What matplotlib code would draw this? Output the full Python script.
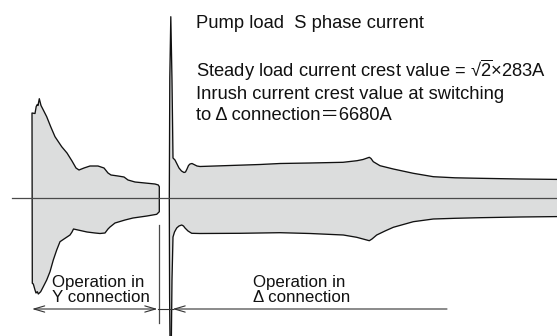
import matplotlib
matplotlib.use("Agg")
import matplotlib.pyplot as plt
from matplotlib.patches import Polygon, FancyArrowPatch, ArrowStyle

plt.rcParams["font.family"] = ["Liberation Sans", "Noto Sans CJK JP", "DejaVu Sans"]
plt.rcParams["mathtext.fontset"] = "custom"
plt.rcParams["mathtext.rm"] = "Liberation Sans"
plt.rcParams["mathtext.it"] = "Liberation Sans:italic"
plt.rcParams["mathtext.bf"] = "Liberation Sans:bold"

# ---- current envelope, Y (star) connection ------------------------------
y_upper_t = [32, 35, 36.2, 37.3, 38.0, 39.3, 41.0, 43.3, 46.7, 50.7, 55, 61.7,
             67, 72, 76, 79, 84, 90, 98, 104, 108, 111, 118, 124, 128, 135,
             145, 155, 158.3, 159.3]
y_upper_amp = [84.5, 84.0, 91.0, 93.0, 92.0, 98.8, 92.0, 87.5, 80.8, 70.8, 60.8,
               50.8, 44.5, 36.5, 29.5, 27.5, 29.5, 31.5, 31.5, 29.5, 24.5, 22.5,
               21.5, 20.5, 17.5, 15.5, 14.5, 13.5, 12.5, 10.8]
y_lower_t = [32.3, 33.3, 35, 36, 37.3, 38.3, 40.7, 43.3, 46.7, 50, 53.3, 56.7,
             60, 64, 67, 70, 72, 73.5, 78, 87, 95, 100, 105, 108, 110, 115,
             125, 133, 147, 156.7, 159.3]
y_lower_amp = [-85.8, -86.5, -92.5, -95.5, -94.2, -96.5, -94.2, -89.2, -82.5,
               -74.2, -62.5, -52.5, -44.2, -41.5, -39.5, -37.5, -34.5, -31.5,
               -32.5, -34.5, -35.5, -36.0, -35.5, -31.5, -29.5, -25.5, -22.5,
               -20.5, -18.5, -16.8, -14.2]

# ---- inrush spike at the switch-over to delta connection ----------------
spike_up_left_t = [169.3, 169.8, 170.8]
spike_up_left_amp = [0.0, 120.0, 180.8]
spike_up_right_t = [172.0, 173.0]
spike_up_right_amp = [117.0, 39.5]
spike_dn_right_t = [172.0, 171.0]
spike_dn_right_amp = [-82.0, -175.0]
spike_dn_left_t = [170.3, 169.6]
spike_dn_left_amp = [-175.0, -100.0]

# ---- current envelope, delta connection ---------------------------------
d_upper_t = [173, 175, 177, 179, 181.5, 184, 185.5, 187, 188.5, 190, 192, 194,
             197, 200, 230, 260, 280, 310, 343, 357, 363, 369.3, 371, 373.3,
             380, 393.3, 413.3, 433.3, 455, 480, 520, 565]
d_upper_amp = [39.5, 37.5, 33.5, 29.5, 26.5, 25.0, 25.5, 28.5, 32.0, 33.5, 34.0,
               33.0, 31.5, 31.0, 32.0, 33.0, 34.0, 34.5, 35.2, 36.8, 38.0, 40.2,
               39.0, 35.8, 31.8, 28.5, 24.2, 20.8, 19.7, 19.2, 18.5, 18.0]
d_lower_t = [173, 174.5, 176.7, 179, 181.7, 183.5, 185, 188, 191.7, 200, 240,
             280, 310, 343.3, 356.7, 363, 369.3, 372, 376.7, 385, 393.3, 413.3,
             433.3, 455, 480, 520, 565]
d_lower_amp = [-39.5, -34.5, -30.5, -28.5, -27.5, -28.5, -30.5, -33.5, -35.8,
               -36.0, -35.8, -35.2, -36.0, -37.5, -39.8, -41.5, -43.2, -41.5,
               -37.5, -33.5, -29.8, -24.2, -21.5, -20.8, -20.2, -19.5, -19.0]

# ---- annotations --------------------------------------------------------
steady_rms = 283        # A
inrush_peak = 6680      # A
y_period = (32, 157.5)
delta_period = (172.5, 447)
switch_t = 159.3

title_lines = [
    "Pump load  S phase current",
    "Steady load current crest value = \u221a$\\overline{2}$\u00d7%dA" % steady_rms,
    "Inrush current crest value at switching",
    "to \u0394 connection\uff1d%dA" % inrush_peak,
]
title_baselines = [169.5, 120.2, 98.8, 78.0]

fill_col = "#dcdddd"
edge_col = "#111111"

fig = plt.figure(figsize=(5.57, 3.36), dpi=100)
ax = fig.add_axes([0, 0, 1, 1])
ax.set_xlim(0, 557)
ax.set_ylim(-138.5, 197.5)
ax.axis("off")

# Y-connection envelope
ys = list(zip(y_upper_t, y_upper_amp)) + list(zip(y_lower_t[::-1], y_lower_amp[::-1]))
ax.add_patch(Polygon(ys, closed=True, facecolor=fill_col, edgecolor=edge_col,
                     lw=0.95, joinstyle="round", zorder=2))

# delta-connection envelope with the inrush spike on its left edge
ds = (list(zip(spike_dn_left_t, spike_dn_left_amp))
      + list(zip(spike_up_left_t, spike_up_left_amp))
      + list(zip(spike_up_right_t, spike_up_right_amp))
      + list(zip(d_upper_t, d_upper_amp))
      + list(zip(d_lower_t[::-1], d_lower_amp[::-1]))
      + list(zip(spike_dn_right_t, spike_dn_right_amp)))
ax.add_patch(Polygon(ds, closed=True, facecolor=fill_col, edgecolor=edge_col,
                     lw=0.95, joinstyle="round", zorder=2))

# time axis
ax.plot([12, 557], [0, 0], color="#4a4a4a", lw=0.9, zorder=3)

# switching instant marker
ax.plot([switch_t, switch_t], [-27.5, -125.5], color="#4a4a4a", lw=0.9, zorder=3)

# operating-period arrows
arr_y = -111.5
astyle_both = ArrowStyle("<->", head_length=0.55, head_width=0.16)
astyle_left = ArrowStyle("<-", head_length=0.55, head_width=0.16)
ax.add_patch(FancyArrowPatch((y_period[0], arr_y), (y_period[1], arr_y),
                             arrowstyle=astyle_both, mutation_scale=14,
                             shrinkA=0, shrinkB=0, color="#333333", lw=0.8, zorder=3))
ax.plot([y_period[1], delta_period[0]], [arr_y, arr_y], color="#333333", lw=0.8, zorder=3)
ax.add_patch(FancyArrowPatch((delta_period[0], arr_y), (delta_period[1], arr_y),
                             arrowstyle=astyle_left, mutation_scale=14,
                             shrinkA=0, shrinkB=0, color="#333333", lw=0.8, zorder=3))

# text
for line, yb in zip(title_lines, title_baselines):
    ax.text(196, yb, line, fontsize=13.2, ha="left", va="baseline", color="#111111")

ax.text(52, -90.0, "Operation in", fontsize=12.2, ha="left", va="baseline", color="#111111")
ax.text(52, -105.0, "Y connection", fontsize=12.2, ha="left", va="baseline", color="#111111")
ax.text(253, -90.0, "Operation in", fontsize=12.2, ha="left", va="baseline", color="#111111")
ax.text(253, -105.0, "\u0394 connection", fontsize=12.2, ha="left", va="baseline", color="#111111")

fig.savefig("out.png", dpi=100)
